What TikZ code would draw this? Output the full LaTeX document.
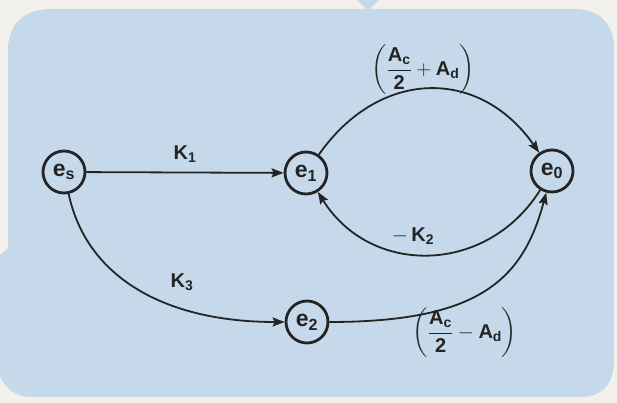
\documentclass[tikz,border=0pt]{standalone}
\usepackage{amsmath}
\usepackage{fontspec}
\setmainfont{Liberation Sans}
\usetikzlibrary{arrows.meta}
\definecolor{outer}{HTML}{F3F1EC}
\definecolor{panel}{HTML}{C5D9EA}
\definecolor{ink}{HTML}{242424}
\tikzset{
  state/.style={circle, draw=ink, line width=2.8pt, minimum size=42pt, inner sep=0pt,
                text=ink, font=\fontsize{23}{26}\selectfont\bfseries},
  conn/.style={draw=ink, line width=1.8pt, -{Stealth[length=12pt,width=9pt,inset=2pt]}},
  lbl/.style={text=ink, font=\fontsize{20}{24}\selectfont\bfseries, inner sep=1pt},
}
\begin{document}
\begin{tikzpicture}[x=1pt,y=1pt]
\useasboundingbox (0,0) rectangle (617,403);
\fill[outer] (0,0) rectangle (617,403);
% panel
\fill[panel] (0,148) -- (8,155) -- (8,353)
  .. controls (8,380) and (25,394) .. (52,394) -- (575,394)
  .. controls (598,394) and (614,380) .. (614,355) -- (614,43)
  .. controls (614,20) and (603,6) .. (580,6) -- (32,6)
  .. controls (15,6) and (5,15) .. (0,27) -- cycle;
\fill[panel] (357,403) -- (379,403) -- (368,392) -- cycle;
% nodes
\node[state] (es) at (64,231) {$\text{e}_{\text{s}}$};
\node[state] (e1) at (306,230) {$\text{e}_{\text{1}}$};
\node[state] (e0) at (552,232) {$\text{e}_{\text{0}}$};
\node[state] (e2) at (307,81) {$\text{e}_{\text{2}}$};
% connectors
\draw[conn] (es) -- node[lbl, above=8pt] {K$_{\text{1}}$} (e1);
\draw[conn] (e1.55) .. controls +(55:105) and +(125:105) .. (e0.125);
\draw[conn] (e0.238) .. controls +(238:100) and +(302:100) .. (e1.302);
\draw[conn] (es.-78) .. controls +(-78:85) and +(180:120) .. (e2.180);
\draw[conn] (e2.0) .. controls +(0:150) and +(255:90) .. (e0.255);
% labels
\node[lbl] (l1) at (423,333) {$\left(\dfrac{\text{A}_{\text{c}}}{\text{2}} + \text{A}_{\text{d}}\right)$};
\node[lbl] (l2) at (413,167) {$-\,$K$_{\text{2}}$};
\node[lbl] (l3) at (182,121) {K$_{\text{3}}$};
\node[lbl] (l4) at (465,70) {$\left(\dfrac{\text{A}_{\text{c}}}{\text{2}} - \text{A}_{\text{d}}\right)$};
\end{tikzpicture}
\end{document}
